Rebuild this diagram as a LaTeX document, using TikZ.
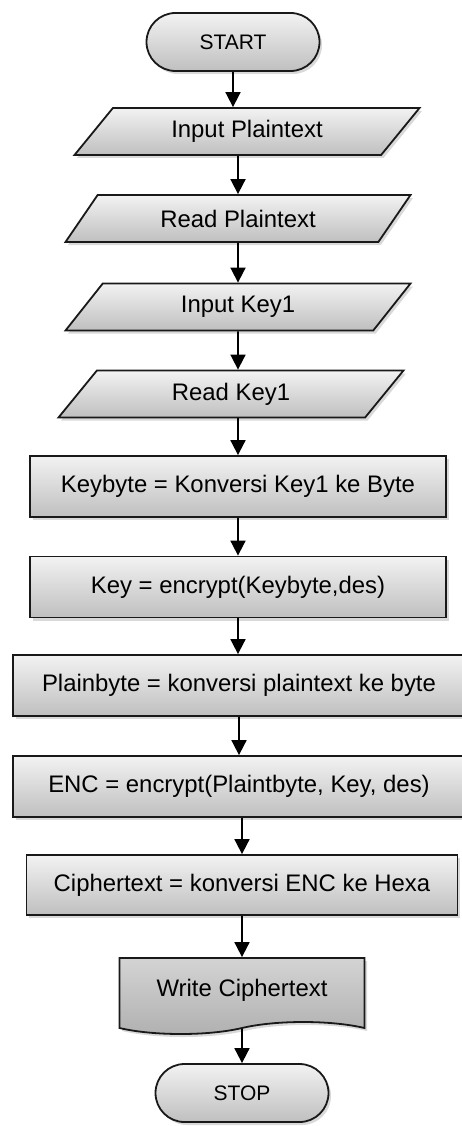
\documentclass[tikz,border=0pt]{standalone}
\usepackage{fontspec}
\setmainfont{Liberation Sans}
\usetikzlibrary{positioning, shapes.geometric, shapes.symbols, shadows, arrows.meta}

\begin{document}
\begin{tikzpicture}[x=1pt, y=-1pt,
		font=\fontsize{23.9}{28}\selectfont,
		shaded/.style={draw=black!90, line width=1.8pt, top color=black!5, bottom color=black!25,
			drop shadow={shadow xshift=2.5pt, shadow yshift=-3pt, opacity=0.3}},
		terminal/.style={shaded, rectangle, rounded corners=29pt, minimum width=173pt, minimum height=58pt,
			font=\fontsize{21}{25}\selectfont},
		io/.style={shaded, trapezium, trapezium left angle=37, trapezium right angle=143,
			trapezium stretches body=true, minimum width=345pt, minimum height=47pt},
		process/.style={shaded, rectangle, minimum width=416pt, minimum height=61pt},
		output/.style={shaded, top color=black!17, bottom color=black!31, tape, tape bend top=none,
			tape bend bottom=in and out, tape bend height=12pt, minimum width=245pt, minimum height=76pt},
		flow/.style={line width=1.8pt, -{Triangle[width=15pt, length=15pt]}}
	]
	\useasboundingbox (0,0) rectangle (461,1126);

	% input steps
	\node[terminal] (start) at (233,42) {START};
	\node[io] (inPlain) at (247,131.5) {Input Plaintext};
	\node[io] (rdPlain) at (238,218.5) {Read Plaintext};
	\node[io] (inKey) at (238,307) {Input Key1};
	\node[io] (rdKey) at (231,394) {Read Key1};

	% encryption steps
	\node[process] (keybyte) at (238,486.5) {Keybyte = Konversi Key1 ke Byte};
	\node[process] (key) at (238,587) {Key = encrypt(Keybyte,des)};
	\node[process, minimum width=452pt] (plainbyte) at (239,685.5) {Plainbyte = konversi plaintext ke byte};
	\node[process, minimum width=452pt] (enc) at (239,786.5) {ENC = encrypt(Plaintbyte, Key, des)};
	\node[process, minimum width=431pt, minimum height=60pt] (cipher) at (242,885) {Ciphertext = konversi ENC ke Hexa};

	% output
	\node[output] (write) at (242,990) {Write Ciphertext};
	\node[terminal] (stop) at (242,1093) {STOP};

	\draw[flow] (start) -- (start |- inPlain.north);
	\draw[flow] (rdPlain |- inPlain.south) -- (rdPlain);
	\draw[flow] (inKey |- rdPlain.south) -- (inKey);
	\draw[flow] (inKey) -- (inKey |- rdKey.north);
	\draw[flow] (keybyte |- rdKey.south) -- (keybyte);
	\draw[flow] (keybyte) -- (key);
	\draw[flow] (key) -- (key |- plainbyte.north);
	\draw[flow] (enc |- plainbyte.south) -- (enc);
	\draw[flow] (cipher |- enc.south) -- (cipher);
	\draw[flow] (cipher) -- (write);
	\draw[flow] (write) -- (stop);
\end{tikzpicture}
\end{document}
